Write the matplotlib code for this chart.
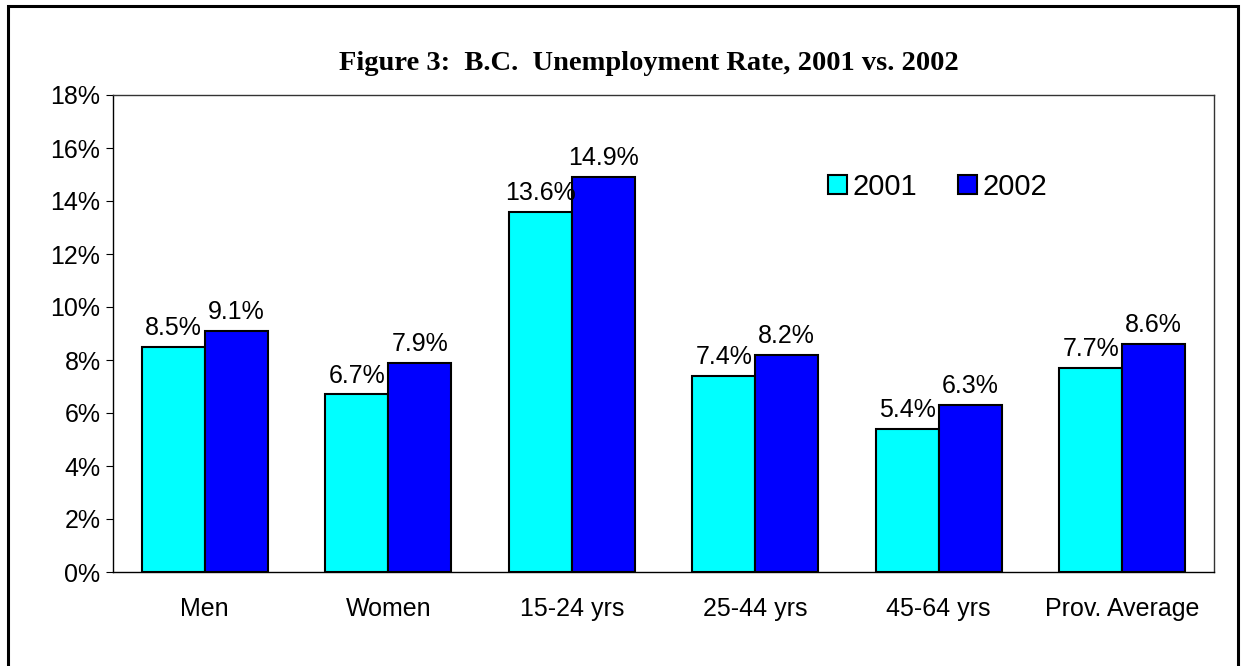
import numpy as np
import matplotlib.pyplot as plt
from matplotlib.patches import Rectangle

categories = ['Men', 'Women', '15-24 yrs', '25-44 yrs', '45-64 yrs', 'Prov. Average']
rate_2001 = [8.5, 6.7, 13.6, 7.4, 5.4, 7.7]
rate_2002 = [9.1, 7.9, 14.9, 8.2, 6.3, 8.6]
series_names = ['2001', '2002']
yticks = [0, 2, 4, 6, 8, 10, 12, 14, 16, 18]

plt.rcParams['font.family'] = ['Liberation Sans', 'DejaVu Sans']

fig = plt.figure(figsize=(12.41, 6.66), dpi=100)
ax = fig.add_axes([113 / 1241, 1 - 572 / 666, (1214 - 113) / 1241, (572 - 95) / 666])

x = np.arange(len(categories))
w = 0.343
b1 = ax.bar(x - w / 2, rate_2001, w, color='#00FFFF', edgecolor='black', linewidth=1.5,
            label=series_names[0], zorder=3)
b2 = ax.bar(x + w / 2, rate_2002, w, color='#0000FF', edgecolor='black', linewidth=1.5,
            label=series_names[1], zorder=3)

for bars, vals in [(b1, rate_2001), (b2, rate_2002)]:
    for rect, v in zip(bars, vals):
        ax.annotate(f'{v:.1f}%', (rect.get_x() + rect.get_width() / 2, v),
                    xytext=(0, 5), textcoords='offset points',
                    ha='center', va='bottom', fontsize=18)

ax.set_xlim(-0.5, len(categories) - 0.5)
ax.set_ylim(0, 18)
ax.set_yticks(yticks)
ax.set_yticklabels([f'{t}%' for t in yticks], fontsize=18)
ax.set_xticks(x)
ax.set_xticklabels(categories, fontsize=18)
ax.tick_params(axis='x', length=0, pad=18)
ax.tick_params(axis='y', length=5, direction='out', pad=4)

for s in ['left', 'bottom']:
    ax.spines[s].set_color('black')
    ax.spines[s].set_linewidth(1.0)
for s in ['top', 'right']:
    ax.spines[s].set_color('#333333')
    ax.spines[s].set_linewidth(1.0)

ax.legend(loc='center left', bbox_to_anchor=(816 / 1241, 1 - 187 / 666),
          bbox_transform=fig.transFigure, frameon=False, ncol=2, fontsize=21,
          handlelength=0.65, handleheight=0.65, handletextpad=0.2,
          columnspacing=1.4, borderaxespad=0)

fig.text(649 / 1241, 1 - 63 / 666, 'Figure 3:  B.C.  Unemployment Rate, 2001 vs. 2002',
         ha='center', va='center', fontsize=20.5, fontweight='bold',
         family=['Liberation Serif', 'DejaVu Serif'])

# outer frame, cut off at the bottom
fig.add_artist(Rectangle((8 / 1241, -0.1), (1238 - 8) / 1241, 1.1 - 6 / 666,
                         transform=fig.transFigure, fill=False,
                         edgecolor='black', linewidth=2.2))

fig.savefig('out.png', dpi=100)
